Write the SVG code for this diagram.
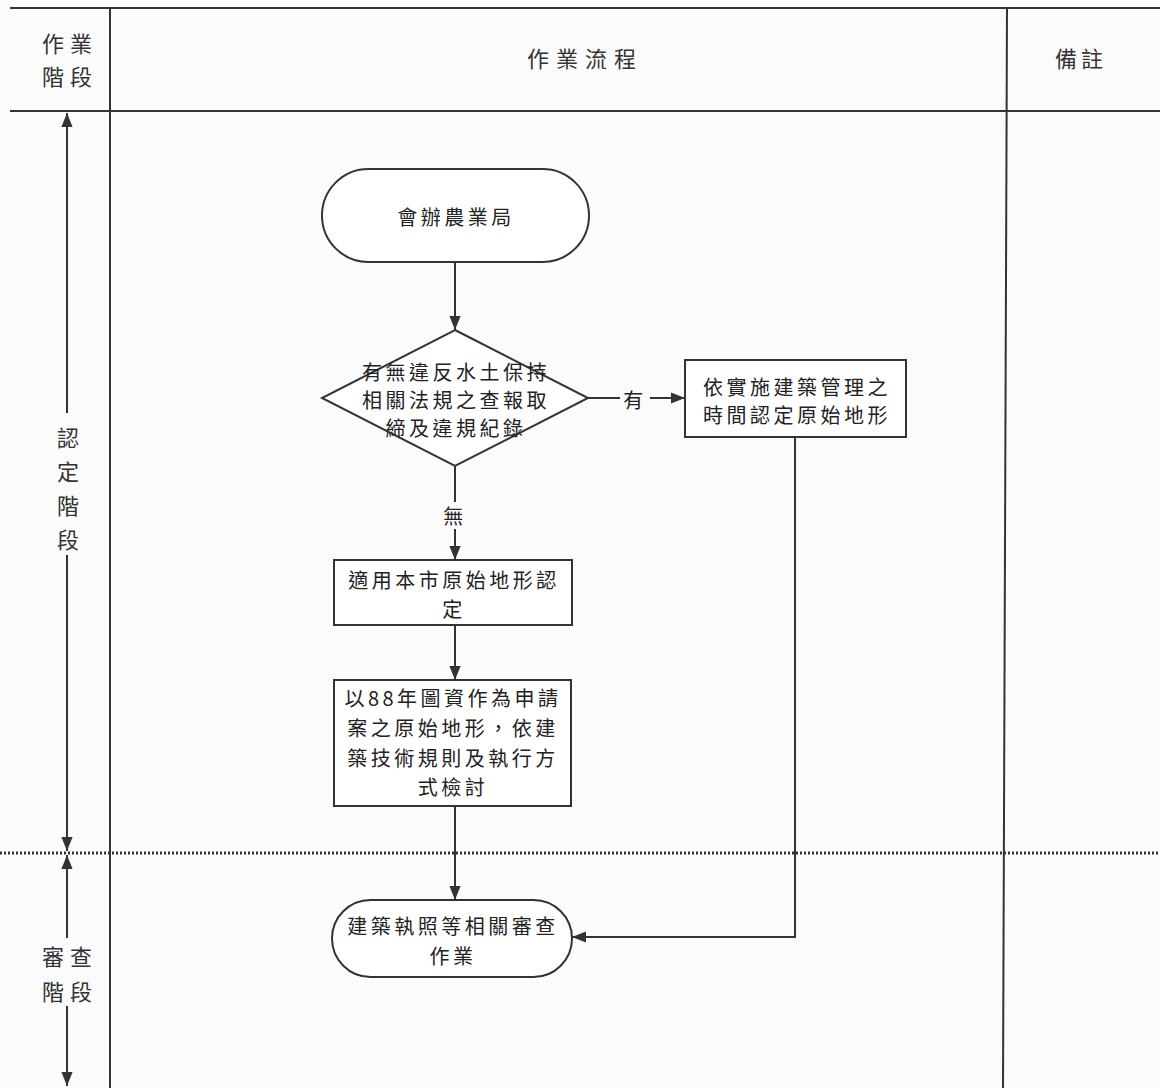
<svg xmlns="http://www.w3.org/2000/svg" width="1160" height="1088" viewBox="0 0 1160 1088">
<defs>
<marker id="ah2" viewBox="0 0 10 10" refX="10" refY="5" markerWidth="14" markerHeight="14" markerUnits="userSpaceOnUse" orient="auto-start-reverse">
<path d="M0,1 L10,5 L0,9 Z" fill="#333"/>
</marker>
<style>
.ln{stroke:#333;stroke-width:2;fill:none}
.nd{stroke:#333;stroke-width:2;fill:#fff}
.t{font-family:"Noto Sans CJK TC","Noto Sans CJK SC",sans-serif;font-size:20px;fill:#222;text-anchor:middle;dominant-baseline:central;letter-spacing:3.5px}
.h{font-family:"Noto Sans CJK TC","Noto Sans CJK SC",sans-serif;font-size:22px;fill:#333;text-anchor:middle;dominant-baseline:central}
</style>
</defs>
<rect width="1160" height="1088" fill="#fbfbfb"/>
<g id="table">
<line class="ln" x1="10" y1="8" x2="1160" y2="8"/>
<line class="ln" x1="10" y1="111" x2="1160" y2="111"/>
<line class="ln" x1="110" y1="8" x2="110" y2="1088"/>
<line class="ln" x1="1007" y1="8" x2="1003" y2="1088"/>
<line x1="0" y1="853" x2="1160" y2="853" stroke="#333" stroke-width="3" stroke-dasharray="2 2"/>
<text class="h" x="70" y="42" letter-spacing="6">作業</text>
<text class="h" x="70" y="75" letter-spacing="6">階段</text>
<text class="h" x="585" y="57" letter-spacing="7">作業流程</text>
<text class="h" x="1081" y="57" letter-spacing="4">備註</text>
</g>
<g id="stage1">
<line class="ln" x1="67" y1="413" x2="67" y2="113" marker-end="url(#ah2)"/>
<line class="ln" x1="67" y1="555" x2="67" y2="851" marker-end="url(#ah2)"/>
<text class="h" x="68" y="436">認</text>
<text class="h" x="68" y="470">定</text>
<text class="h" x="68" y="504">階</text>
<text class="h" x="68" y="538">段</text>
</g>
<g id="stage2">
<line class="ln" x1="67" y1="938" x2="67" y2="855" marker-end="url(#ah2)"/>
<line class="ln" x1="67" y1="1006" x2="67" y2="1086" marker-end="url(#ah2)"/>
<text class="h" x="70" y="955" letter-spacing="6">審查</text>
<text class="h" x="70" y="990" letter-spacing="6">階段</text>
</g>
<g id="connectors">
<line class="ln" x1="455" y1="262" x2="455" y2="330" marker-end="url(#ah2)"/>
<line class="ln" x1="588" y1="398" x2="620" y2="398"/>
<line class="ln" x1="650" y1="398" x2="685" y2="398" marker-end="url(#ah2)"/>
<text class="t" x="635" y="399" letter-spacing="0">有</text>
<line class="ln" x1="455" y1="466" x2="455" y2="502"/>
<line class="ln" x1="455" y1="529" x2="455" y2="560" marker-end="url(#ah2)"/>
<text class="t" x="455" y="515" letter-spacing="0">無</text>
<line class="ln" x1="455" y1="625" x2="455" y2="680" marker-end="url(#ah2)"/>
<line class="ln" x1="455" y1="806" x2="455" y2="900" marker-end="url(#ah2)"/>
<polyline class="ln" points="795,437 795,937 572,937" marker-end="url(#ah2)"/>
</g>
<g id="start">
<rect class="nd" x="322" y="169" width="267" height="93" rx="46.5"/>
<text class="t" x="456" y="216">會辦農業局</text>
</g>
<g id="decision">
<polygon class="nd" points="455,330 588,398 455,466 322,398"/>
<text class="t" x="456" y="371">有無違反水土保持</text>
<text class="t" x="456" y="399">相關法規之查報取</text>
<text class="t" x="456" y="427">締及違規紀錄</text>
</g>
<g id="box-original-time">
<rect class="nd" x="685" y="360" width="221" height="77"/>
<text class="t" x="797" y="386">依實施建築管理之</text>
<text class="t" x="797" y="414">時間認定原始地形</text>
</g>
<g id="box-apply">
<rect class="nd" x="334" y="560" width="238" height="65"/>
<text class="t" x="454" y="579">適用本市原始地形認</text>
<text class="t" x="454" y="608">定</text>
</g>
<g id="box-88">
<rect class="nd" x="334" y="680" width="237" height="126"/>
<text class="t" x="453" y="697">以88年圖資作為申請</text>
<text class="t" x="453" y="727">案之原始地形，依建</text>
<text class="t" x="453" y="757">築技術規則及執行方</text>
<text class="t" x="453" y="786">式檢討</text>
</g>
<g id="end">
<rect class="nd" x="332" y="900" width="240" height="77" rx="38.5"/>
<text class="t" x="453" y="925">建築執照等相關審查</text>
<text class="t" x="453" y="955">作業</text>
</g>
</svg>
